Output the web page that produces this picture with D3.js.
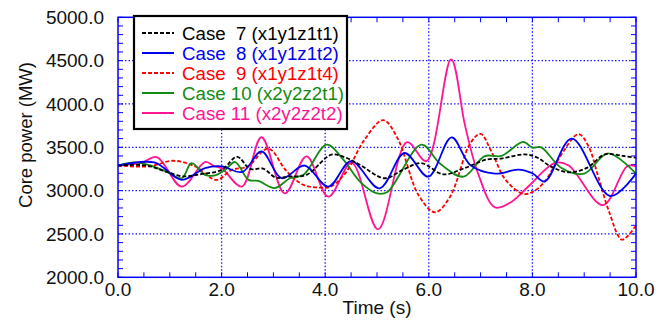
<!DOCTYPE html>
<html><head><meta charset="utf-8">
<script src="https://cdn.jsdelivr.net/npm/d3@7"></script>
<style>
html,body{margin:0;padding:0;background:#fff;}
text{font-family:"Liberation Sans",Arial,sans-serif;}
</style></head>
<body><svg id="c" width="668" height="320"></svg>
<script>
// ---- data ----
const xTicks = [0, 2, 4, 6, 8, 10];
const yTicks = [2000, 2500, 3000, 3500, 4000, 4500, 5000];
const seriesNames = ["Case  7 (x1y1z1t1)", "Case  8 (x1y1z1t2)", "Case  9 (x1y1z1t4)", "Case 10 (x2y2z2t1)", "Case 11 (x2y2z2t2)"];

const t7 = [0, 0.55, 0.9, 1.25, 1.6, 2.0, 2.3, 2.55, 2.8, 3.05, 3.3, 3.64, 4.12, 4.4, 4.67, 5.15, 5.5, 5.85, 6.28, 6.7, 7.13, 7.4, 7.85, 8.1, 8.35, 8.7, 9.05, 9.4, 9.75, 10];
const v7 = [3290, 3290, 3225, 3165, 3190, 3240, 3390, 3250, 3255, 3150, 3163, 3182, 3415, 3380, 3298, 3143, 3240, 3318, 3188, 3262, 3361, 3370, 3418, 3380, 3280, 3211, 3262, 3418, 3400, 3380];

const t8 = [0, 0.7, 1.23, 1.68, 2.0, 2.4, 2.77, 3.16, 3.6, 4.06, 4.5, 5.05, 5.53, 5.99, 6.44, 6.8, 7.28, 7.73, 8.0, 8.24, 8.76, 9.5, 10];
const v8 = [3290, 3325, 3125, 3260, 3280, 3215, 3453, 3143, 3290, 3046, 3340, 3027, 3434, 3161, 3615, 3296, 3196, 3243, 3200, 3106, 3600, 2938, 3196];

const t9 = [0, 0.6, 1.07, 1.49, 1.9, 2.2, 2.5, 2.9, 3.26, 3.58, 3.9, 4.1, 4.4, 4.75, 5.12, 5.4, 5.8, 6.12, 6.41, 6.8, 7.0, 7.22, 7.48, 7.82, 8.02, 8.24, 8.5, 8.89, 9.08, 9.27, 9.47, 9.72, 9.85, 10];
const v9 = [3290, 3280, 3345, 3279, 3124, 3240, 3279, 3485, 3221, 3066, 3035, 3045, 3210, 3580, 3814, 3600, 2950, 2750, 2930, 3546, 3654, 3437, 3126, 2962, 2990, 3106, 3360, 3652, 3515, 3165, 2775, 2435, 2482, 2600];

const t10 = [0, 0.33, 0.6, 0.95, 1.23, 1.42, 1.68, 1.87, 2.07, 2.26, 2.52, 2.71, 3.03, 3.32, 3.58, 4.03, 4.35, 4.67, 5.0, 5.2, 5.86, 6.21, 6.67, 7.08, 7.4, 7.82, 8.0, 8.17, 8.56, 9.0, 9.46, 10];
const v10 = [3290, 3325, 3295, 3215, 3143, 3318, 3182, 3175, 3240, 3330, 3124, 3112, 3030, 3143, 3182, 3531, 3357, 3105, 2969, 2985, 3531, 3315, 3161, 3398, 3400, 3562, 3496, 3500, 3262, 3196, 3430, 3196];

const t11 = [0, 0.45, 0.75, 1.23, 1.68, 1.87, 2.0, 2.39, 2.77, 3.22, 3.64, 4.06, 4.51, 5.02, 5.58, 5.95, 6.43, 6.7, 6.95, 7.28, 7.6, 7.92, 8.44, 8.7, 9.36, 9.83, 10];
const v11 = [3290, 3320, 3388, 3046, 3330, 3279, 3260, 3046, 3616, 2969, 3395, 2930, 3320, 2554, 3560, 3340, 4515, 3750, 3200, 2806, 2872, 3048, 3320, 3290, 2833, 3282, 3280];

const colors = ["#000000", "#0000ee", "#ff0000", "#138a13", "#ff1493"];
const dashes = ["4,2", null, "4,2", null, null];

// ---- layout ----
const svg = d3.select("#c");
const L = 118, R = 636, T = 17.3, B = 277.3;
const x = d3.scaleLinear().domain([0, 10]).range([L, R]);
const y = d3.scaleLinear().domain([2000, 5000]).range([B, T]);
const axisBlue = "#0000ff";
const FS = 19;

// grid
const g = svg.append("g");
g.selectAll(".gx").data(xTicks.slice(1, -1)).join("line")
  .attr("x1", d => x(d)).attr("x2", d => x(d)).attr("y1", T).attr("y2", B)
  .attr("stroke", "#1a1aff").attr("stroke-width", 1.3).attr("stroke-dasharray", "1.5,2");
g.selectAll(".gy").data(yTicks.slice(1, -1)).join("line")
  .attr("y1", d => y(d)).attr("y2", d => y(d)).attr("x1", L).attr("x2", R)
  .attr("stroke", "#1a1aff").attr("stroke-width", 1.3).attr("stroke-dasharray", "1.5,2");

// minor ticks
const xMinor = d3.range(0, 10.01, 0.5);
const yMinor = d3.range(2000, 5001, 100);
const tk = svg.append("g").attr("stroke", axisBlue).attr("stroke-width", 1);
tk.selectAll(".xb").data(xMinor).join("line").attr("x1", d => x(d)).attr("x2", d => x(d)).attr("y1", B).attr("y2", B - 5);
tk.selectAll(".xt").data(xMinor).join("line").attr("x1", d => x(d)).attr("x2", d => x(d)).attr("y1", T).attr("y2", T + 5);
tk.selectAll(".yl").data(yMinor).join("line").attr("y1", d => y(d)).attr("y2", d => y(d)).attr("x1", L).attr("x2", L + 5);
tk.selectAll(".yr").data(yMinor).join("line").attr("y1", d => y(d)).attr("y2", d => y(d)).attr("x1", R).attr("x2", R - 5);

// series
const all = [[t7, v7], [t8, v8], [t9, v9], [t10, v10], [t11, v11]];
const line = d3.line().x(d => x(d[0])).y(d => y(d[1])).curve(d3.curveCatmullRom.alpha(0.5));
const order = [4, 2, 3, 1, 0];
order.forEach(i => {
  const pts = all[i][0].map((t, k) => [t, all[i][1][k]]);
  svg.append("path").datum(pts).attr("d", line).attr("fill", "none")
    .attr("stroke", colors[i]).attr("stroke-width", 1.8)
    .attr("stroke-dasharray", dashes[i]);
});

// frame
svg.append("rect").attr("x", L).attr("y", T).attr("width", R - L).attr("height", B - T)
  .attr("fill", "none").attr("stroke", axisBlue).attr("stroke-width", 1.5);

// tick labels
const fmt = d3.format(".1f");
svg.append("g").selectAll("text").data(xTicks).join("text")
  .attr("x", d => x(d)).attr("y", 296).attr("text-anchor", "middle")
  .attr("font-size", FS).attr("fill", "#111").text(fmt);
svg.append("g").selectAll("text").data(yTicks).join("text")
  .attr("x", 104).attr("y", d => y(d)).attr("dy", "0.36em").attr("text-anchor", "end")
  .attr("font-size", FS).attr("fill", "#111").text(fmt);

// axis titles
svg.append("text").attr("x", x(5)).attr("y", 314).attr("text-anchor", "middle")
  .attr("font-size", FS).attr("fill", "#111").text("Time (s)");
svg.append("text").attr("transform", "translate(32,135) rotate(-90)").attr("text-anchor", "middle")
  .attr("font-size", 18.5).attr("fill", "#111").text("Core power (MW)");

// legend
const lg = svg.append("g");
lg.append("rect").attr("x", 134).attr("y", 16).attr("width", 213).attr("height", 113)
  .attr("fill", "#fff").attr("stroke", "#000").attr("stroke-width", 2.2);
seriesNames.forEach((name, i) => {
  const yy = 33 + i * 20;
  lg.append("line").attr("x1", 142).attr("x2", 174).attr("y1", yy).attr("y2", yy)
    .attr("stroke", colors[i]).attr("stroke-width", 2).attr("stroke-dasharray", dashes[i]);
  lg.append("text").attr("x", 182).attr("y", yy).attr("dy", "0.36em")
    .attr("font-size", 18.7).attr("fill", colors[i]).style("white-space", "pre").text(name);
});
</script></body></html>
